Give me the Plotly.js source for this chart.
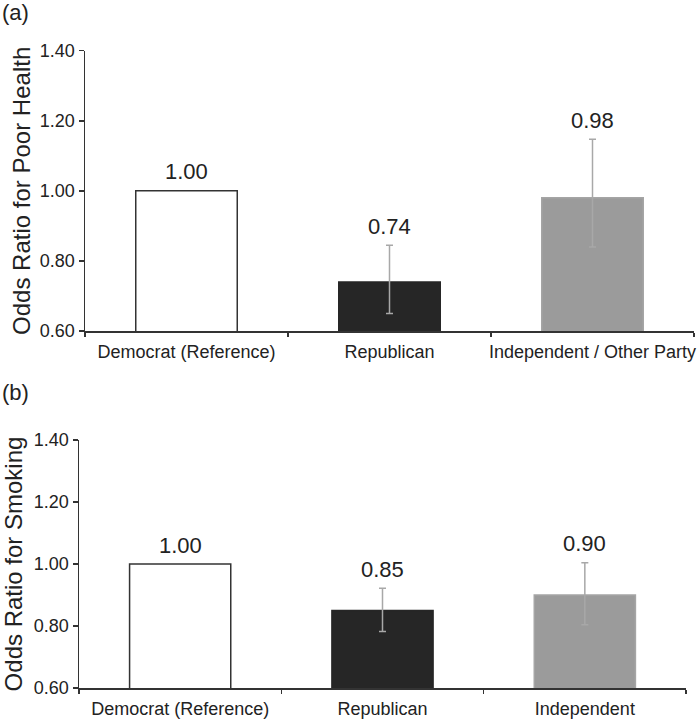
<!DOCTYPE html>
<html>
<head>
<meta charset="utf-8">
<script src="https://cdn.plot.ly/plotly-3.0.1.min.js"></script>
<style>
html,body{margin:0;padding:0;background:#fff;}
#chart{width:700px;height:720px;}
</style>
</head>
<body>
<div id="chart"></div>
<script>
// ---- Data ----
const categoriesA = ['Democrat (Reference)', 'Republican', 'Independent / Other Party'];
const oddsA = [1.00, 0.74, 0.98];
const lowerA = [null, 0.65, 0.84];
const upperA = [null, 0.845, 1.147];

const categoriesB = ['Democrat (Reference)', 'Republican', 'Independent'];
const oddsB = [1.00, 0.85, 0.90];
const lowerB = [null, 0.782, 0.804];
const upperB = [null, 0.922, 1.004];

const yTickVals = [0.60, 0.80, 1.00, 1.20, 1.40];
const yTickText = ['0.60', '0.80', '1.00', '1.20', '1.40'];

// ---- Styles ----
const FONT = '"Liberation Sans", Arial, Helvetica, sans-serif';
const TXT = '#222222';
const fillColors = ['#ffffff', '#262626', '#9b9b9b'];
const lineColors = ['#333333', '#262626', '#a5a5a5'];

function barTrace(cats, vals, xa, ya) {
  return {
    type: 'bar',
    x: cats, y: vals,
    xaxis: xa, yaxis: ya,
    width: 0.5,
    marker: { color: fillColors, line: { color: lineColors, width: 1.5 } },
    hoverinfo: 'x+y',
    showlegend: false
  };
}
// error bars only for categories that have a confidence interval
function ciTrace(cats, vals, lo, up, xa, ya) {
  const has = cats.map((c, i) => lo[i] != null && up[i] != null);
  return {
    type: 'scatter', mode: 'markers',
    x: cats.filter((c, i) => has[i]),
    y: vals.filter((v, i) => has[i]),
    xaxis: xa, yaxis: ya,
    marker: { size: 1, opacity: 0 },
    error_y: {
      type: 'data', symmetric: false,
      array: vals.map((v, i) => up[i] - v).filter((v, i) => has[i]),
      arrayminus: vals.map((v, i) => v - lo[i]).filter((v, i) => has[i]),
      color: '#a8a8a8', thickness: 1.5, width: 3.5
    },
    hoverinfo: 'skip',
    showlegend: false
  };
}

const data = [
  barTrace(categoriesA, oddsA, 'x', 'y'),
  ciTrace(categoriesA, oddsA, lowerA, upperA, 'x', 'y'),
  barTrace(categoriesB, oddsB, 'x2', 'y2'),
  ciTrace(categoriesB, oddsB, lowerB, upperB, 'x2', 'y2')
];

function valueLabels(cats, vals, up, xref, yref) {
  return cats.map((c, i) => ({
    x: c, y: up[i] == null ? vals[i] : up[i],
    xref: xref, yref: yref,
    text: vals[i].toFixed(2),
    showarrow: false, yanchor: 'middle', yshift: 19,
    font: { family: FONT, size: 22, color: TXT }
  }));
}

function xAxis(domain, anchor, cats) {
  return {
    domain: domain, anchor: anchor,
    type: 'category', categoryorder: 'array', categoryarray: cats,
    range: [-0.5, 2.5],
    showline: true, linecolor: '#333333', linewidth: 1.5,
    ticks: 'outside', tickson: 'boundaries', ticklen: 4, tickwidth: 1.5, tickcolor: '#333333',
    tickangle: 0, ticklabelstandoff: 4,
    tickfont: { family: FONT, size: 18, color: TXT },
    showgrid: false, zeroline: false, fixedrange: true
  };
}
function yAxis(domain, anchor, title, standoff) {
  return {
    domain: domain, anchor: anchor,
    range: [0.60, 1.40],
    tickmode: 'array', tickvals: yTickVals, ticktext: yTickText,
    showline: true, linecolor: '#333333', linewidth: 1.5,
    ticks: 'outside', ticklen: 5, tickwidth: 1.5, tickcolor: '#333333',
    tickfont: { family: FONT, size: 18, color: TXT },
    showgrid: false, zeroline: false, fixedrange: true,
    title: { text: title, font: { family: FONT, size: 24, color: TXT }, standoff: standoff }
  };
}

const W = 700, H = 720;
const layout = {
  width: W, height: H,
  margin: { l: 0, r: 0, t: 0, b: 0 },
  paper_bgcolor: '#ffffff', plot_bgcolor: '#ffffff',
  font: { family: FONT, color: TXT },
  xaxis: xAxis([85 / W, 694 / W], 'y', categoriesA),
  yaxis: yAxis([(H - 331) / H, (H - 50.7) / H], 'x', 'Odds Ratio for Poor Health', 2),
  xaxis2: xAxis([79 / W, 686 / W], 'y2', categoriesB),
  yaxis2: yAxis([(H - 688) / H, (H - 440) / H], 'x2', 'Odds Ratio for Smoking', 4),
  annotations: [
    ...valueLabels(categoriesA, oddsA, upperA, 'x', 'y'),
    ...valueLabels(categoriesB, oddsB, upperB, 'x2', 'y2'),
    { text: '(a)', xref: 'paper', yref: 'paper', x: 0, y: 1 - 12 / H, xanchor: 'left', yanchor: 'middle',
      showarrow: false, font: { family: FONT, size: 22, color: TXT } },
    { text: '(b)', xref: 'paper', yref: 'paper', x: 0, y: 1 - 393 / H, xanchor: 'left', yanchor: 'middle',
      showarrow: false, font: { family: FONT, size: 22, color: TXT } }
  ]
};

Plotly.newPlot('chart', data, layout, { displayModeBar: false, staticPlot: true });
</script>
</body>
</html>
